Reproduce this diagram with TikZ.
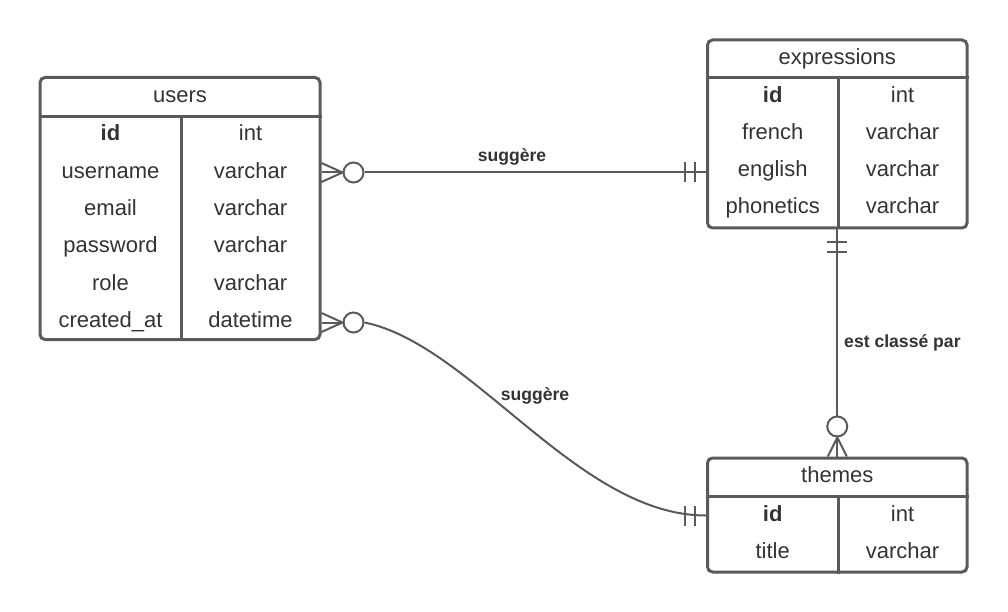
\documentclass[tikz,border=0pt]{standalone}
\usepackage{fontspec}
\setmainfont{Liberation Sans}
\usetikzlibrary{calc}
\definecolor{erline}{RGB}{90,90,90}
\definecolor{ertext}{RGB}{51,51,51}
\tikzstyle{tableframe}=[draw=erline,line width=3pt,rounded corners=5pt,inner sep=0pt]
\tikzstyle{tableline}=[draw=erline,line width=3pt]
\tikzstyle{cell}=[text=ertext,font=\fontsize{22}{26}\selectfont,inner sep=0pt,anchor=base]
\tikzstyle{keycell}=[cell,font=\fontsize{22}{26}\selectfont\bfseries]
\tikzstyle{relline}=[draw=erline,line width=2pt]
\tikzstyle{rellabel}=[text=ertext,font=\fontsize{17.6}{20}\selectfont\bfseries,inner sep=0pt,anchor=base]
\tikzstyle{optcircle}=[circle,draw=erline,line width=2pt,minimum size=20pt,inner sep=0pt,fill=white]

\begin{document}
\begin{tikzpicture}[x=1pt,y=-1pt]
  \useasboundingbox (0,0) rectangle (1008,612);

  % users
  \node[tableframe,minimum width=280pt,minimum height=262pt] (users) at (180,208.5) {};
  \draw[tableline] (users.west |- 0,116.5) -- (users.east |- 0,116.5);
  \draw[tableline] (181,116.5) -- (users.south -| 181,0);
  \node[cell] (users-title) at (180,103) {users};
  \node[keycell] (u-id) at (110.5,141) {id};
  \node[cell] (u-username) at (110.5,178.3) {username};
  \node[cell] (u-email) at (110.5,215.6) {email};
  \node[cell] (u-password) at (110.5,252.9) {password};
  \node[cell] (u-role) at (110.5,290.2) {role};
  \node[cell] (u-created) at (110.5,327.5) {created\_at};
  \node[cell] (u-id-t) at (250.5,141) {int};
  \node[cell] (u-username-t) at (250.5,178.3) {varchar};
  \node[cell] (u-email-t) at (250.5,215.6) {varchar};
  \node[cell] (u-password-t) at (250.5,252.9) {varchar};
  \node[cell] (u-role-t) at (250.5,290.2) {varchar};
  \node[cell] (u-created-t) at (250.5,327.5) {datetime};

  % expressions
  \node[tableframe,minimum width=259.5pt,minimum height=188pt] (expressions) at (837.25,134) {};
  \draw[tableline] (expressions.west |- 0,78) -- (expressions.east |- 0,78);
  \draw[tableline] (838,78) -- (expressions.south -| 838,0);
  \node[cell] (expressions-title) at (837.25,64.5) {expressions};
  \node[keycell] (e-id) at (772.7,103) {id};
  \node[cell] (e-french) at (772.7,140) {french};
  \node[cell] (e-english) at (772.7,177) {english};
  \node[cell] (e-phonetics) at (772.7,214) {phonetics};
  \node[cell] (e-id-t) at (902.5,103) {int};
  \node[cell] (e-french-t) at (902.5,140) {varchar};
  \node[cell] (e-english-t) at (902.5,177) {varchar};
  \node[cell] (e-phonetics-t) at (902.5,214) {varchar};

  % themes
  \node[tableframe,minimum width=259.5pt,minimum height=114pt] (themes) at (837.25,515) {};
  \draw[tableline] (themes.west |- 0,496) -- (themes.east |- 0,496);
  \draw[tableline] (838,496) -- (themes.south -| 838,0);
  \node[cell] (themes-title) at (837.25,482) {themes};
  \node[keycell] (t-id) at (772.7,521) {id};
  \node[cell] (t-title) at (772.7,558) {title};
  \node[cell] (t-id-t) at (902.5,521) {int};
  \node[cell] (t-title-t) at (902.5,558) {varchar};

  % users -- expressions
  \coordinate (u1) at (users.east |- 0,172.5);
  \coordinate (e1) at (expressions.west |- u1);
  \node[optcircle] (c1) at ($(u1)+(32,0)$) {};
  \draw[relline] ($(u1)+(0,-9.5)$) -- (c1.west) -- ($(u1)+(0,9.5)$);
  \draw[relline] (u1) -- (c1.west);
  \draw[relline] (c1) -- (e1);
  \draw[relline] ($(e1)+(-21,-10)$) -- ($(e1)+(-21,10)$);
  \draw[relline] ($(e1)+(-11,-10)$) -- ($(e1)+(-11,10)$);
  \node[rellabel] (l1) at (512,162) {suggère};

  % users -- themes
  \coordinate (u2) at (users.east |- 0,322.5);
  \coordinate (t2) at (themes.west |- 0,515.5);
  \node[optcircle] (c2) at ($(u2)+(32,0)$) {};
  \draw[relline] ($(u2)+(0,-9.5)$) -- (c2.west) -- ($(u2)+(0,9.5)$);
  \draw[relline] (u2) -- (c2.west);
  \draw[relline] (c2.east) .. controls ($(c2.east)+(108,22)$) and ($(t2)+(-128,0)$) .. (t2);
  \draw[relline] ($(t2)+(-21,-10)$) -- ($(t2)+(-21,10)$);
  \draw[relline] ($(t2)+(-11,-10)$) -- ($(t2)+(-11,10)$);
  \node[rellabel] (l2) at (535,400) {suggère};

  % expressions -- themes
  \coordinate (e3) at (expressions.south);
  \coordinate (t3) at (themes.north);
  \node[optcircle] (c3) at ($(t3)+(0,-30)$) {};
  \draw[relline] ($(t3)+(-9.5,0)$) -- (c3.south) -- ($(t3)+(9.5,0)$);
  \draw[relline] (t3) -- (c3.south);
  \draw[relline] (e3) -- (c3.north);
  \draw[relline] ($(e3)+(-10,12)$) -- ($(e3)+(10,12)$);
  \draw[relline] ($(e3)+(-10,22)$) -- ($(e3)+(10,22)$);
  \node[rellabel,anchor=base west] (l3) at (844,347) {est classé par};
\end{tikzpicture}
\end{document}
